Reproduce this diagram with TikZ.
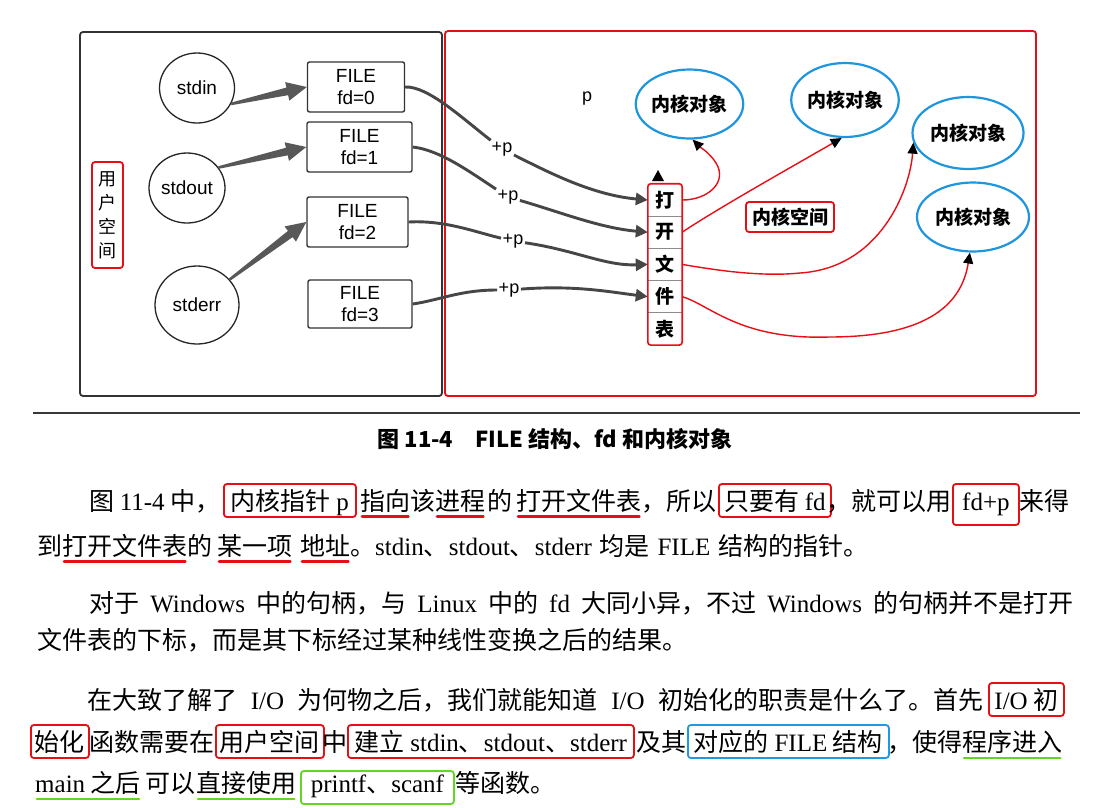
\documentclass[tikz,border=0pt]{standalone}
\usepackage{fontspec}
\setmainfont{Liberation Serif}
\newfontfamily\cjkfont{Noto Sans CJK SC}
\newfontfamily\arialfont{Liberation Sans}
\usetikzlibrary{arrows.meta,shapes.geometric,calc,fit}

\definecolor{annred}{RGB}{232,14,22}
\definecolor{annblue}{RGB}{26,156,228}
\definecolor{anngreen}{RGB}{98,214,34}
\definecolor{kblue}{RGB}{30,150,222}
\definecolor{fatgray}{RGB}{88,88,88}
\definecolor{linkgray}{RGB}{70,70,70}

\newcommand\bodyfont{\cjkfont\fontsize{25}{30}\selectfont}
\newcommand\enw[1]{{\rmfamily #1}}
\newcommand\dsans{\arialfont\fontsize{19}{22}\selectfont}
\newcommand\psans{\arialfont\fontsize{18}{20}\selectfont}
\newcommand\dcjkb{\cjkfont\bfseries\fontsize{19}{22}\selectfont}
\newcommand\capfont{\cjkfont\bfseries\fontsize{22}{26}\selectfont}

% tapered wedge arrow from #1 (tail) to #2 (tip)
\newcommand\fatarrow[2]{%
  \path ($(#2)!20pt!(#1)$) coordinate (fahead);
  \fill[fatgray] ($(#1)!1.3pt!90:(#2)$) -- ($(fahead)!3.9pt!-90:(#1)$)
    -- ($(fahead)!9.5pt!-90:(#1)$) -- (#2) -- ($(fahead)!9.5pt!90:(#1)$)
    -- ($(fahead)!3.9pt!90:(#1)$) -- ($(#1)!1.3pt!-90:(#2)$) -- cycle;}

\begin{document}
\begin{tikzpicture}[x=1pt,y=-1pt,
  userframe/.style={draw=black!80, line width=1.8pt, rounded corners=3pt},
  kernframe/.style={draw=annred, line width=1.8pt, rounded corners=3pt},
  tag/.style={draw=annred, line width=1.8pt, rounded corners=3pt, inner sep=0pt, align=center},
  stream/.style={ellipse, draw=black!85, line width=1.3pt, inner sep=0pt, font=\dsans},
  filebox/.style={draw=black!80, line width=1.4pt, rounded corners=2pt, minimum height=50pt,
    inner sep=0pt, align=center, font=\dsans},
  kobj/.style={ellipse, draw=kblue, line width=2.2pt, inner sep=0pt, font=\dcjkb},
  cell/.style={minimum width=34pt, minimum height=32.2pt, inner sep=0pt, font=\dcjkb},
  divider/.style={draw=black!45, line width=1pt},
  plabel/.style={font=\psans, fill=white, inner sep=1.5pt},
  fdlink/.style={draw=linkgray, line width=2.9pt, -{Triangle[length=12pt,width=12pt]}},
  koblink/.style={draw=annred, line width=1.4pt, -{Triangle[length=11pt,width=10pt,color=black]}},
  txt/.style={anchor=base west, inner sep=0pt, font=\bodyfont},
  notebox/.style={txt, draw=#1, line width=1.8pt, rounded corners=3pt, inner xsep=3pt,
    inner ysep=4pt, text height=22pt, text depth=3pt},
  redline/.style={draw=annred, line width=2.6pt, line cap=round},
  greenline/.style={draw=anngreen, line width=2.6pt, line cap=round},
  rule/.style={draw=black!78, line width=1.8pt}]

\useasboundingbox (0,0) rectangle (1094,807);
\fill[white] (0,0) rectangle (1094,807);

% ---------- user space ----------
\node[userframe, minimum width=362pt, minimum height=364pt] (uspace) at (261,214) {};
\node[tag, minimum width=31pt, minimum height=106pt, font=\cjkfont\fontsize{18}{24}\selectfont]
  (ulabel) at (107.5,215) {用\\户\\空\\间};

\node[stream, minimum width=75pt, minimum height=70pt] (stdin) at (197,88) {stdin};
\node[stream, minimum width=76pt, minimum height=70pt] (stdout) at (187,188) {stdout};
\node[stream, minimum width=84pt, minimum height=78pt] (stderr) at (197,305) {stderr};

\node[filebox, minimum width=97pt] (f0) at (356,87) {FILE\\fd=0};
\node[filebox, minimum width=105pt] (f1) at (359.5,147) {FILE\\fd=1};
\node[filebox, minimum width=101pt] (f2) at (357.5,222) {FILE\\fd=2};
\node[filebox, minimum width=104pt, minimum height=48pt] (f3) at (360,304) {FILE\\fd=3};

\coordinate (inTail) at (stdin.-25);
\coordinate (outTail) at (stdout.33);
\coordinate (errTail) at (stderr.38);
\fatarrow{inTail}{f0.west}
\fatarrow{outTail}{f1.west}
\fatarrow{errTail}{f2.west}

% ---------- kernel space ----------
\node[kernframe, minimum width=591pt, minimum height=365pt] (kspace) at (740.5,213.5) {};

\node[font=\psans, inner sep=1pt] (pptr) at (587,99) {p};

\node[kobj, minimum width=105pt, minimum height=69pt] (e1) at (689.5,104) {内核对象};
\node[kobj, minimum width=105pt, minimum height=74pt] (e2) at (845,100) {内核对象};
\node[kobj, minimum width=111pt, minimum height=72pt] (e3) at (968,133) {内核对象};
\node[kobj, minimum width=112pt, minimum height=69pt] (e4) at (973,217) {内核对象};

\node[tag, minimum width=88pt, minimum height=30pt, font=\dcjkb] (kname) at (790,217) {内核空间};

% open file table
\node[cell] (c1) at (665,200) {打};
\node[cell] (c2) at (665,232.2) {开};
\node[cell] (c3) at (665,264.4) {文};
\node[cell] (c4) at (665,296.6) {件};
\node[cell] (c5) at (665,328.8) {表};
\foreach \a in {c1,c2,c3,c4} \draw[divider] (\a.south west) -- (\a.south east);
\node[fit=(c1)(c5), draw=annred, line width=1.6pt, rounded corners=3pt, inner sep=0pt] (otab) {};
\fill (652,181) -- (664,181) -- (658,170) -- cycle;

% fd + p links
\node[plabel] (p1) at (502,149) {+p};
\node[plabel] (p2) at (508,197) {+p};
\node[plabel] (p3) at (513,241) {+p};
\node[plabel] (p4) at (509,290) {+p};

\draw[fdlink] (f0.east) .. controls (428,86) and (462,118) .. (p1)
  .. controls (548,172) and (592,195) .. (c1.west);
\draw[fdlink] (f1.east) .. controls (440,150) and (470,172) .. (p2)
  .. controls (560,212) and (600,228) .. (c2.west);
\draw[fdlink] (f2.east) .. controls (445,220) and (475,232) .. (p3)
  .. controls (575,250) and (605,266) .. (c3.west);
\draw[fdlink] (f3.east) .. controls (440,300) and (460,290) .. (p4)
  .. controls (575,285) and (610,292) .. (c4.west);

% table entries -> kernel objects
\draw[koblink] (c1.east) .. controls (708,200) and (728,182) .. (716,163)
  .. controls (710,153) and (700,147) .. (e1.-85);
\draw[koblink] (c2.east) .. controls (715,210) and (795,165) .. (e2.-95);
\draw[koblink] (c3.east) .. controls (715,270) and (760,277) .. (800,273)
  .. controls (880,268) and (910,190) .. (e3.190);
\draw[koblink] (c4.east) .. controls (710,305) and (740,340) .. (829,337)
  .. controls (910,337) and (960,315) .. (e4.-95);

% ---------- caption ----------
\coordinate (ruleL) at (33,413);
\coordinate (ruleR) at (1080,413);
\draw[rule] (ruleL) -- (ruleR);
\node[anchor=base, inner sep=0pt, font=\capfont] (cap) at (555,447) {图 11-4\hspace{1em}FILE 结构、fd 和内核对象};

% ---------- paragraph 1 ----------
\node[txt] (l1a) at (89,510) {图 \enw{11-4} 中，};
\node[notebox=annred, minimum width=132pt] (l1b) at (223,510) {内核指针 \enw{p}};
\node[txt] (l1c) at (360,510) {指向};
\node[txt] (l1d) at (410,510) {该};
\node[txt] (l1e) at (435,510) {进程};
\node[txt] (l1f) at (487,510) {的};
\node[txt] (l1g) at (516,510) {打开文件表};
\node[txt] (l1h) at (641,510) {，所以};
\node[notebox=annred, minimum width=112pt] (l1i) at (718,510) {只要有 \enw{fd}};
\node[txt] (l1j) at (826,510) {，就可以用};
\node[notebox=annred, minimum width=66pt, text depth=11pt] (l1k) at (952,510) {\enw{fd+p}};
\node[txt] (l1l) at (1019,510) {来得};

\node[txt] (l2a) at (37,555) {到};
\node[txt] (l2b) at (62,555) {打开文件表};
\node[txt] (l2c) at (187,555) {的};
\node[txt] (l2d) at (217,555) {某一项};
\node[txt] (l2e) at (300,555) {地址};
\node[txt] (l2f) at (350,555) {\makebox[518pt][s]{。\enw{stdin}、\enw{stdout}、\enw{stderr} 均是 \enw{FILE} 结构的指针。}};

\foreach \u in {l1c,l1e,l1g,l2b,l2d,l2e}
  \draw[redline] ([shift={(2pt,-6.5pt)}]\u.base west) -- ([shift={(-2pt,-6.5pt)}]\u.base east);

% ---------- paragraph 2 ----------
\node[txt] (l3) at (89,612) {\makebox[984pt][s]{对于 \enw{Windows} 中的句柄，与 \enw{Linux} 中的 \enw{fd} 大同小异，不过 \enw{Windows} 的句柄并不是打开}};
\node[txt] (l4) at (37,649) {文件表的下标，而是其下标经过某种线性变换之后的结果。};

% ---------- paragraph 3 ----------
\node[txt] (l5a) at (87,709) {\makebox[896pt][s]{在大致了解了 \enw{I/O} 为何物之后，我们就能知道 \enw{I/O} 初始化的职责是什么了。首先}};
\node[notebox=annred, minimum width=75pt] (l5b) at (988,709) {\enw{I/O} 初};

\node[notebox=annred, minimum width=58pt] (l6a) at (30,751) {始化};
\node[txt] (l6b) at (89,751) {函数需要在};
\node[notebox=annred, minimum width=108pt] (l6c) at (215,751) {用户空间};
\node[txt] (l6d) at (322,751) {中};
\node[notebox=annred, minimum width=286pt] (l6e) at (347,751) {建立 \enw{stdin}、\enw{stdout}、\enw{stderr}};
\node[txt] (l6f) at (636,751) {及其};
\node[notebox=annblue, minimum width=201pt] (l6g) at (687,751) {对应的 \enw{FILE} 结构};
\node[txt] (l6h) at (887,751) {，使得};
\node[txt] (l6i) at (962,751) {程序进入};

\node[txt] (l7a) at (35,792) {\enw{main} 之后};
\node[txt] (l7b) at (145,792) {可以};
\node[txt] (l7c) at (196,792) {直接使用};
\node[notebox=anngreen, minimum width=153pt, text height=17pt, text depth=8pt] (l7d) at (300,792) {\enw{printf}、\enw{scanf}};
\node[txt] (l7e) at (455,792) {等函数。};

\foreach \u in {l6i,l7a,l7c}
  \draw[greenline] ([shift={(2pt,-7pt)}]\u.base west) -- ([shift={(-2pt,-7pt)}]\u.base east);

\end{tikzpicture}
\end{document}
